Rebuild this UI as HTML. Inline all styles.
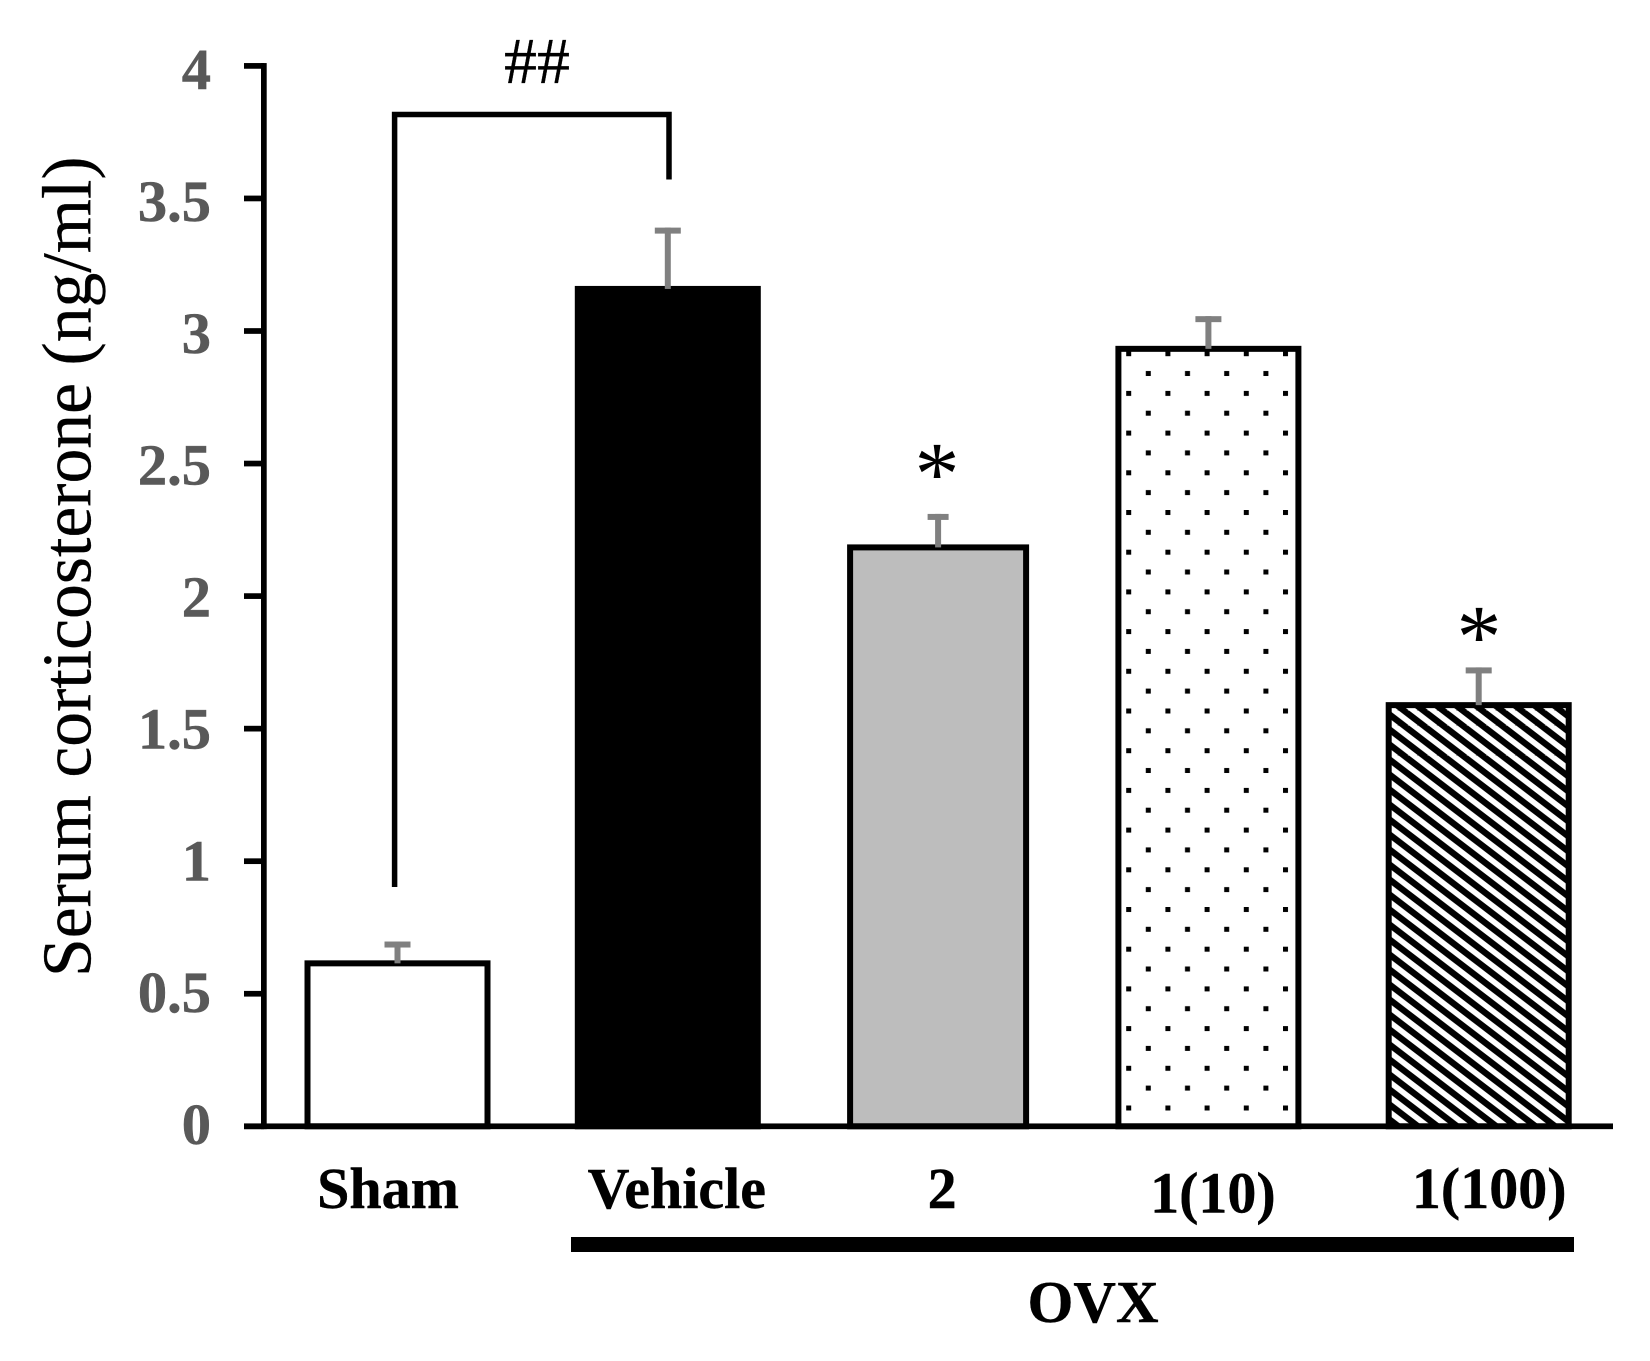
<!DOCTYPE html>
<html lang="en">
<head>
<meta charset="utf-8">
<title>Serum corticosterone bar chart</title>
<style>
html,body{margin:0;padding:0;background:#fff;width:1650px;height:1361px;overflow:hidden}
svg{display:block}
text{font-family:"Liberation Serif",serif}
.tick-label{font-size:58.5px;font-weight:700;fill:#595959;stroke:#595959;stroke-width:.5px;text-anchor:end}
.cat{font-size:58px;font-weight:700;fill:#000;stroke:#000;stroke-width:.4px;text-anchor:middle}
</style>
</head>
<body>
<svg id="chart" xmlns="http://www.w3.org/2000/svg" width="1650" height="1361" viewBox="0 0 1650 1361">
  <defs>
    <pattern id="dots" patternUnits="userSpaceOnUse" x="1126.2" y="351.2" width="39.2" height="39.7">
      <rect width="39.2" height="39.7" fill="#fff"/>
      <rect x="0" y="0" width="5" height="5" fill="#000"/>
      <rect x="19.6" y="19.8" width="5" height="5" fill="#000"/>
    </pattern>
    <pattern id="hatch" patternUnits="userSpaceOnUse" x="1413" y="800" width="19.6" height="15">
      <rect width="19.6" height="15" fill="#000"/>
      <path d="M-19.6 -15L39.2 30M-19.6 0L19.6 30M0 -15L39.2 15" stroke="#fff" stroke-width="5.6" fill="none"/>
    </pattern>
  </defs>
  <rect x="0" y="0" width="1650" height="1361" fill="#fff"/>
  <g id="bars"></g>
  <g id="errors"></g>
  <g id="y-axis"></g>
  <text transform="translate(90.5 977) rotate(-90)" font-size="69.7" fill="#000" stroke="#000" stroke-width=".3">Serum corticosterone (ng/ml)</text>
  <g id="cats">
    <text class="cat" dx="-9.5" y="1208"></text>
    <text class="cat" dx="9" y="1208"></text>
    <text class="cat" dx="4" y="1208"></text>
    <text class="cat" dx="4.5" y="1212.5"></text>
    <text class="cat" dx="10.5" y="1208"></text>
  </g>
  <path d="M394.6 887V114.5H669V179.5" fill="none" stroke="#000" stroke-width="5.5"/>
  <text x="537" y="83" font-size="66" text-anchor="middle" fill="#000" stroke="#000" stroke-width=".3">##</text>
  <text x="937" y="504" font-size="90" text-anchor="middle" fill="#000">*</text>
  <text x="1479" y="667" font-size="90" text-anchor="middle" fill="#000">*</text>
  <rect x="571" y="1237" width="1003" height="15" fill="#000"/>
  <text x="1093" y="1322" font-size="59" font-weight="700" text-anchor="middle" fill="#000" stroke="#000" stroke-width=".4">OVX</text>
</svg>
<script>
const categories = ["Sham", "Vehicle", "2", "1(10)", "1(100)"];
const barValues = [0.626, 3.17, 2.195, 2.944, 1.60];
const errorValues = [0.071, 0.22, 0.115, 0.112, 0.131];
const barFills = ["#fff", "#000", "#bdbdbd", "url(#dots)", "url(#hatch)"];
const yTickLabels = ["0", "0.5", "1", "1.5", "2", "2.5", "3", "3.5", "4"];

const SVGNS = "http://www.w3.org/2000/svg";
const BORDER = 6;
function yScale(v) { return 1126.3 - v * 265.1; }
function labelY(v) { return 1144 - v * 263.75; }
function xBand(i) { return 397.5 + i * 270.3; }
function barW(i) { return i === 2 ? 182 : 186; }
function capW(i) { return i === 2 ? 21 : 26; }
function make(tag, parentId) {
  const el = document.createElementNS(SVGNS, tag);
  document.getElementById(parentId).appendChild(el);
  return el;
}

barValues.forEach(function (v, i) {
  const top = yScale(v);
  const w = barW(i);
  const rect = make("rect", "bars");
  
  
  rect.setAttribute("x", xBand(i) - w / 2 + BORDER / 2);
  rect.setAttribute("y", top + BORDER / 2);
  rect.setAttribute("width", w - BORDER);
  rect.setAttribute("height", yScale(0) - top - BORDER / 2);
  rect.setAttribute("fill", barFills[i]);
  rect.setAttribute("stroke", "#000");
  rect.setAttribute("stroke-width", BORDER);
});

errorValues.forEach(function (e, i) {
  const base = yScale(barValues[i]);
  const top = yScale(barValues[i] + e);
  const stem = make("rect", "errors");
  
  
  stem.setAttribute("x", xBand(i) - 3);
  stem.setAttribute("y", top);
  stem.setAttribute("width", 6);
  stem.setAttribute("height", base - top + 3);
  stem.setAttribute("fill", "#808080");
  const cap = make("rect", "errors");
  
  
  cap.setAttribute("x", xBand(i) - capW(i) / 2);
  cap.setAttribute("y", top);
  cap.setAttribute("width", capW(i));
  cap.setAttribute("height", 6);
  cap.setAttribute("fill", "#808080");
});

yTickLabels.forEach(function (t) {
  const v = parseFloat(t);
  const tick = make("rect", "y-axis");
  
  
  tick.setAttribute("x", 244);
  tick.setAttribute("y", yScale(v) - 2.85);
  tick.setAttribute("width", 20);
  tick.setAttribute("height", 5.7);
  tick.setAttribute("fill", "#000");
  const label = make("text", "y-axis");
  
  
  label.setAttribute("class", "tick-label");
  label.setAttribute("x", 211);
  label.setAttribute("y", labelY(v));
  label.textContent = t;
});

const yLine = make("rect", "y-axis");


yLine.setAttribute("x", 261);
yLine.setAttribute("y", yScale(4) - 2.85);
yLine.setAttribute("width", 5.7);
yLine.setAttribute("height", yScale(0) - yScale(4) + 5.7);
yLine.setAttribute("fill", "#000");

const xLine = make("rect", "y-axis");


xLine.setAttribute("x", 244);
xLine.setAttribute("y", yScale(0) - 2.85);
xLine.setAttribute("width", 1369);
xLine.setAttribute("height", 5.7);
xLine.setAttribute("fill", "#000");

const catNodes = document.querySelectorAll("#cats text");
categories.forEach(function (c, i) {
  catNodes[i].setAttribute("x", xBand(i));
  catNodes[i].textContent = c;
});
</script>
</body>
</html>
